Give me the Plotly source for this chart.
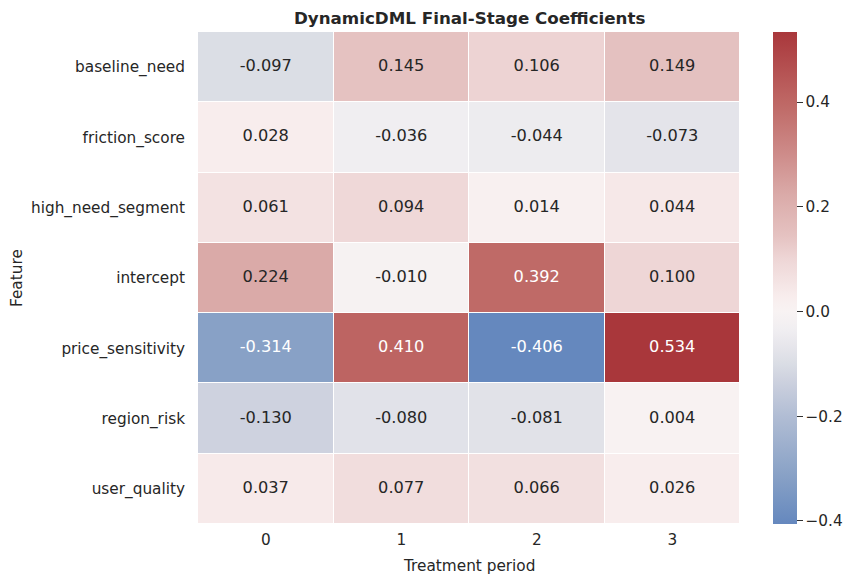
import plotly.graph_objects as go

features = ["baseline_need", "friction_score", "high_need_segment", "intercept",
            "price_sensitivity", "region_risk", "user_quality"]
periods = ["0", "1", "2", "3"]
coef = [
    [-0.097, 0.145, 0.106, 0.149],
    [0.028, -0.036, -0.044, -0.073],
    [0.061, 0.094, 0.014, 0.044],
    [0.224, -0.010, 0.392, 0.100],
    [-0.314, 0.410, -0.406, 0.534],
    [-0.130, -0.080, -0.081, 0.004],
    [0.037, 0.077, 0.066, 0.026],
]
cbar_ticks = [-0.4, -0.2, 0.0, 0.2, 0.4]

zmin = min(min(r) for r in coef)
zmax = max(max(r) for r in coef)

# approximate seaborn "vlag" (centered at 0) anchor colours, by data value
anchors = [
    (-0.406, (101, 136, 190)),
    (-0.314, (136, 161, 198)),
    (-0.200, (177, 189, 212)),
    (-0.130, (206, 210, 223)),
    (-0.097, (219, 222, 229)),
    (-0.073, (228, 228, 234)),
    (-0.036, (240, 238, 241)),
    (0.000, (248, 243, 243)),
    (0.028, (248, 237, 237)),
    (0.061, (243, 226, 226)),
    (0.100, (238, 214, 214)),
    (0.145, (229, 194, 193)),
    (0.224, (218, 170, 168)),
    (0.300, (206, 140, 138)),
    (0.392, (191, 106, 103)),
    (0.410, (189, 100, 98)),
    (0.534, (169, 55, 59)),
]
colorscale = [[(v - zmin) / (zmax - zmin), "rgb(%d,%d,%d)" % c] for v, c in anchors]
colorscale[0][0] = 0.0
colorscale[-1][0] = 1.0

FS = 15.3

fig = go.Figure()
fig.add_trace(go.Heatmap(
    z=coef, x=periods, y=features,
    zmin=zmin, zmax=zmax,
    colorscale=colorscale,
    xgap=1, ygap=1,
    hoverinfo="skip",
    colorbar=dict(
        x=1.0609, xanchor="left", xpad=0,
        y=0.5, yanchor="middle", len=1.0, lenmode="fraction", ypad=0,
        thickness=24, thicknessmode="pixels",
        outlinewidth=0,
        tickvals=cbar_ticks, tickformat=".1f",
        ticks="outside", ticklen=6, tickwidth=1.3, tickcolor="#333333",
        tickfont=dict(family="DejaVu Sans", size=FS, color="#262626"),
    ),
))

# annotation text layer
tx, ty, tt, tc = [], [], [], []
for i, f in enumerate(features):
    for j, p in enumerate(periods):
        v = coef[i][j]
        tx.append(p)
        ty.append(f)
        tt.append(f"{v:.3f}")
        tc.append("white" if abs(v) > 0.3 else "#262626")
fig.add_trace(go.Scatter(
    x=tx, y=ty, text=tt, mode="text",
    textfont=dict(family="DejaVu Sans", size=16.2, color=tc),
    hoverinfo="skip", showlegend=False,
))

# page body has an 8px margin, so the figure is offset by 8px
OFF = 8
W, H = 857 - OFF, 584 - OFF
L, R, T, B = 198 - OFF, 740 - OFF, 32 - OFF, 524 - OFF
fig.update_layout(
    width=W, height=H,
    margin=dict(l=L, r=W - R, t=T, b=H - B, pad=0),
    paper_bgcolor="white", plot_bgcolor="white",
    font=dict(family="DejaVu Sans", color="#262626"),
    showlegend=False,
    xaxis=dict(type="category", showgrid=False, zeroline=False, showline=False,
               ticks="", tickfont=dict(size=FS, color="#262626"),
               ticklabelstandoff=5, range=[-0.5, 3.5]),
    yaxis=dict(type="category", showgrid=False, zeroline=False, showline=False,
               ticks="", tickfont=dict(size=FS, color="#262626"),
               ticklabelstandoff=12, autorange="reversed"),
    annotations=[
        dict(text="<b>DynamicDML Final-Stage Coefficients</b>", xref="paper", yref="paper",
             x=0.5, y=1, yshift=14, xanchor="center", yanchor="middle", showarrow=False,
             font=dict(size=16.7, color="#262626")),
        dict(text="Treatment period", xref="paper", yref="paper",
             x=0.5, y=0, yshift=-42, xanchor="center", yanchor="middle", showarrow=False,
             font=dict(size=FS, color="#262626")),
        dict(text="Feature", xref="paper", yref="paper",
             x=0, xshift=-181, y=0.5, xanchor="center", yanchor="middle", showarrow=False,
             textangle=-90, font=dict(size=FS, color="#262626")),
    ],
)

fig.write_html("out.html")
